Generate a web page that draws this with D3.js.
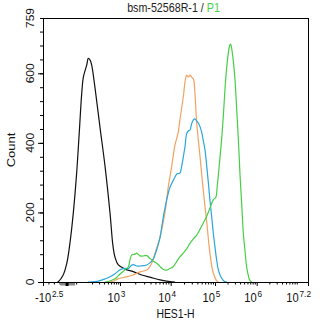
<!DOCTYPE html>
<html>
<head>
<meta charset="utf-8">
<script src="https://cdn.jsdelivr.net/npm/d3@7"></script>
<style>
  html, body { margin: 0; padding: 0; background: #fff; }
  svg { display: block; font-family: "Liberation Sans", Arial, sans-serif; }
</style>
</head>
<body>
<svg id="chart" width="322" height="325"></svg>
<script>
// ---- Histogram data: display channel (0–1024, biexponential axis) and event count ----
const blackChannels  = [55, 59, 78, 92, 104, 117, 130, 140, 150, 156, 169, 175, 182, 188, 201, 220, 240, 259, 270, 278, 291, 317, 349, 381, 413, 452, 491, 510];
const blackCounts    = [0, 1, 20, 54, 111, 198, 313, 428, 546, 589, 624, 643, 638, 624, 558, 446, 331, 198, 106, 72, 49, 37, 30, 20, 14, 6, 1, 0];

const orangeChannels = [251, 267, 290, 317, 348, 375, 402, 420, 433, 452, 471, 484, 497, 510, 522, 529, 542, 550, 555, 561, 568, 574, 581, 587, 594, 607, 619, 633, 645, 658, 674, 680];
const orangeCounts   = [0, 1, 9, 14, 20, 29, 35, 54, 83, 129, 198, 273, 331, 394, 428, 466, 532, 581, 595, 589, 595, 589, 584, 543, 457, 359, 265, 170, 83, 26, 1, 0];

const blueChannels   = [174, 201, 220, 240, 259, 278, 298, 317, 330, 340, 349, 362, 375, 388, 401, 413, 426, 439, 452, 465, 478, 491, 504, 510, 518, 529, 536, 542, 549, 555, 561, 568, 574, 581, 587, 594, 600, 607, 614, 619, 626, 633, 639, 645, 652, 658, 665, 671, 677, 684, 694, 703, 711];
const blueCounts     = [0, 1, 4, 9, 15, 24, 35, 39, 39, 47, 50, 46, 46, 47, 49, 55, 66, 92, 127, 187, 236, 273, 293, 302, 311, 313, 333, 359, 391, 426, 434, 437, 454, 466, 469, 463, 457, 446, 428, 408, 380, 331, 285, 236, 187, 141, 98, 63, 37, 20, 7, 1, 0];

const greenChannels  = [240, 259, 278, 298, 317, 330, 336, 343, 356, 362, 375, 388, 401, 413, 426, 439, 452, 465, 478, 491, 503, 516, 529, 542, 555, 568, 581, 594, 607, 619, 633, 645, 658, 668, 673, 684, 690, 697, 703, 710, 716, 721, 725, 728, 735, 742, 748, 755, 761, 768, 774, 781, 787, 794, 800, 807];
const greenCounts    = [0, 3, 9, 23, 35, 44, 63, 78, 80, 83, 75, 75, 76, 68, 60, 54, 45, 36, 34, 39, 44, 58, 72, 83, 95, 111, 124, 135, 152, 169, 190, 212, 236, 244, 273, 359, 408, 480, 552, 618, 658, 679, 684, 676, 638, 581, 503, 408, 313, 221, 141, 86, 43, 17, 4, 0];

// ---- Axis definitions ----
const channelMax = 1024;
const countMax = 759;
// labelled decades: channel position, base text, exponent text
const xDecadeChannels = [0, 297.5, 493.4, 664.6, 825.8, 1024];
const xDecadeBases    = ["-10", "10", "10", "10", "10", "10"];
const xDecadeExps     = ["2.5", "3", "4", "5", "6", "7.2"];
// decade anchors used for logarithmic minor ticks (10^2 … 10^7)
const xLogDecadeChannels = [143, 297.5, 493.4, 664.6, 825.8, 988.1];
// evenly spaced minor ticks over the linear region near zero
const xLinearTicks = [0, 21, 42, 64, 85, 106, 128];
const yLabelValues = [0, 200, 400, 600, 759];
const yMajorTicks  = [0, 200, 400, 600];
const yMinorStep   = 40;

const titleMain = "bsm-52568R-1 / ";
const titleGate = "P1";
const xTitle = "HES1-H";
const yTitle = "Count";

const colors = { black: "#111111", orange: "#f2a262", blue: "#2aa6dc", green: "#45cf45" };

// ---- Layout ----
const svg = d3.select("#chart");
const margin = { top: 18, right: 14, bottom: 43, left: 43 };
const W = 322 - margin.left - margin.right;
const H = 325 - margin.top - margin.bottom;
const squeeze = 0.87; // horizontal text compression

const x = d3.scaleLinear().domain([0, channelMax]).range([0, W]);
const y = d3.scaleLinear().domain([0, countMax]).range([H, 0]);

const g = svg.append("g").attr("transform", `translate(${margin.left},${margin.top})`);

// ---- Curves ----
const line = d3.line()
  .x(d => x(d[0]))
  .y(d => y(d[1]))
  .curve(d3.curveCatmullRom.alpha(0.5));

const series = [
  [blackChannels, blackCounts, colors.black],
  [orangeChannels, orangeCounts, colors.orange],
  [blueChannels, blueCounts, colors.blue],
  [greenChannels, greenCounts, colors.green]
];
series.forEach(([xs, ys, c]) => {
  g.append("path")
    .datum(xs.map((v, i) => [v, ys[i]]))
    .attr("fill", "none")
    .attr("stroke", c)
    .attr("stroke-width", 1.2)
    .attr("stroke-linejoin", "round")
    .attr("d", line);
});

// ---- Y axis ticks ----
const yMinor = d3.range(0, countMax + 1, yMinorStep).concat([countMax]);
g.append("g")
  .call(d3.axisLeft(y).tickValues(yMinor).tickSize(3).tickFormat(""))
  .call(s => s.select(".domain").remove())
  .selectAll("line").attr("stroke", "#000");
g.append("g")
  .call(d3.axisLeft(y).tickValues(yMajorTicks).tickSize(5).tickFormat(""))
  .call(s => s.select(".domain").remove())
  .selectAll("line").attr("stroke", "#000");

yLabelValues.forEach(v => {
  g.append("text")
    .attr("transform", `translate(-9.5,${y(v)}) scale(${squeeze},1) rotate(-90)`)
    .attr("text-anchor", "middle")
    .attr("font-size", 12)
    .attr("fill", "#111")
    .text(v);
});

// ---- X axis ticks ----
const xMinor = xLinearTicks.slice();
for (let i = 0; i < xLogDecadeChannels.length; i++) {
  const c0 = xLogDecadeChannels[i];
  const c1 = i + 1 < xLogDecadeChannels.length ? xLogDecadeChannels[i + 1] : c0 + (c0 - xLogDecadeChannels[i - 1]);
  for (let k = 2; k <= 9; k++) {
    const c = c0 + Math.log10(k) * (c1 - c0);
    if (c <= channelMax) xMinor.push(c);
  }
}
g.append("g")
  .attr("transform", `translate(0,${H})`)
  .call(d3.axisBottom(x).tickValues(xMinor).tickSize(2.5).tickFormat(""))
  .call(s => s.select(".domain").remove())
  .selectAll("line").attr("stroke", "#000");
g.append("g")
  .attr("transform", `translate(0,${H})`)
  .call(d3.axisBottom(x).tickValues(xDecadeChannels).tickSize(4).tickFormat(""))
  .call(s => s.select(".domain").remove())
  .selectAll("line").attr("stroke", "#000");

// zero marker under the axis
g.append("rect")
  .attr("x", x(66)).attr("y", H + 0.5)
  .attr("width", x(124) - x(66)).attr("height", 3)
  .attr("fill", "#8a8a8a");
g.append("rect")
  .attr("x", x(93) - 1.5).attr("y", H + 0.5)
  .attr("width", 3).attr("height", 3.5)
  .attr("fill", "#000");

// decade labels with superscript exponents
xDecadeChannels.forEach((c, i) => {
  const lg = g.append("g");
  const t = lg.append("text")
    .attr("transform", `scale(${squeeze},1)`)
    .attr("font-size", 12.8)
    .attr("fill", "#111");
  const base = t.append("tspan").text(xDecadeBases[i]);
  t.append("tspan").attr("dx", 1).attr("dy", -5.5).attr("font-size", 9.5).text(xDecadeExps[i]);
  const baseW = base.node().getComputedTextLength();
  const totalW = t.node().getComputedTextLength() + 1;
  let tx;
  if (i === 0) tx = -8;                                  // kept inside the left edge
  else if (i === xDecadeChannels.length - 1) tx = W + 3 - totalW * squeeze; // kept inside the right edge
  else tx = x(c) - baseW * squeeze;                      // base ends on the tick
  lg.attr("transform", `translate(${tx},${H + 20})`);
});

// ---- Frame ----
g.append("rect")
  .attr("x", 0.5).attr("y", 0.5)
  .attr("width", W).attr("height", H)
  .attr("fill", "none")
  .attr("stroke", "#000")
  .attr("stroke-width", 1);

// ---- Titles ----
const title = svg.append("text")
  .attr("transform", `translate(${margin.left + W / 2 - 2},12) scale(${squeeze},1)`)
  .attr("text-anchor", "middle")
  .attr("font-size", 12.3)
  .attr("fill", "#222");
title.append("tspan").text(titleMain);
title.append("tspan").attr("fill", colors.green).text(titleGate);

svg.append("text")
  .attr("transform", `translate(${margin.left + W / 2},318) scale(${squeeze},1)`)
  .attr("text-anchor", "middle")
  .attr("font-size", 12)
  .attr("fill", "#111")
  .text(xTitle);

svg.append("text")
  .attr("transform", `translate(15,${margin.top + H / 2}) scale(${squeeze},1) rotate(-90)`)
  .attr("text-anchor", "middle")
  .attr("font-size", 13)
  .attr("fill", "#111")
  .text(yTitle);
</script>
</body>
</html>
